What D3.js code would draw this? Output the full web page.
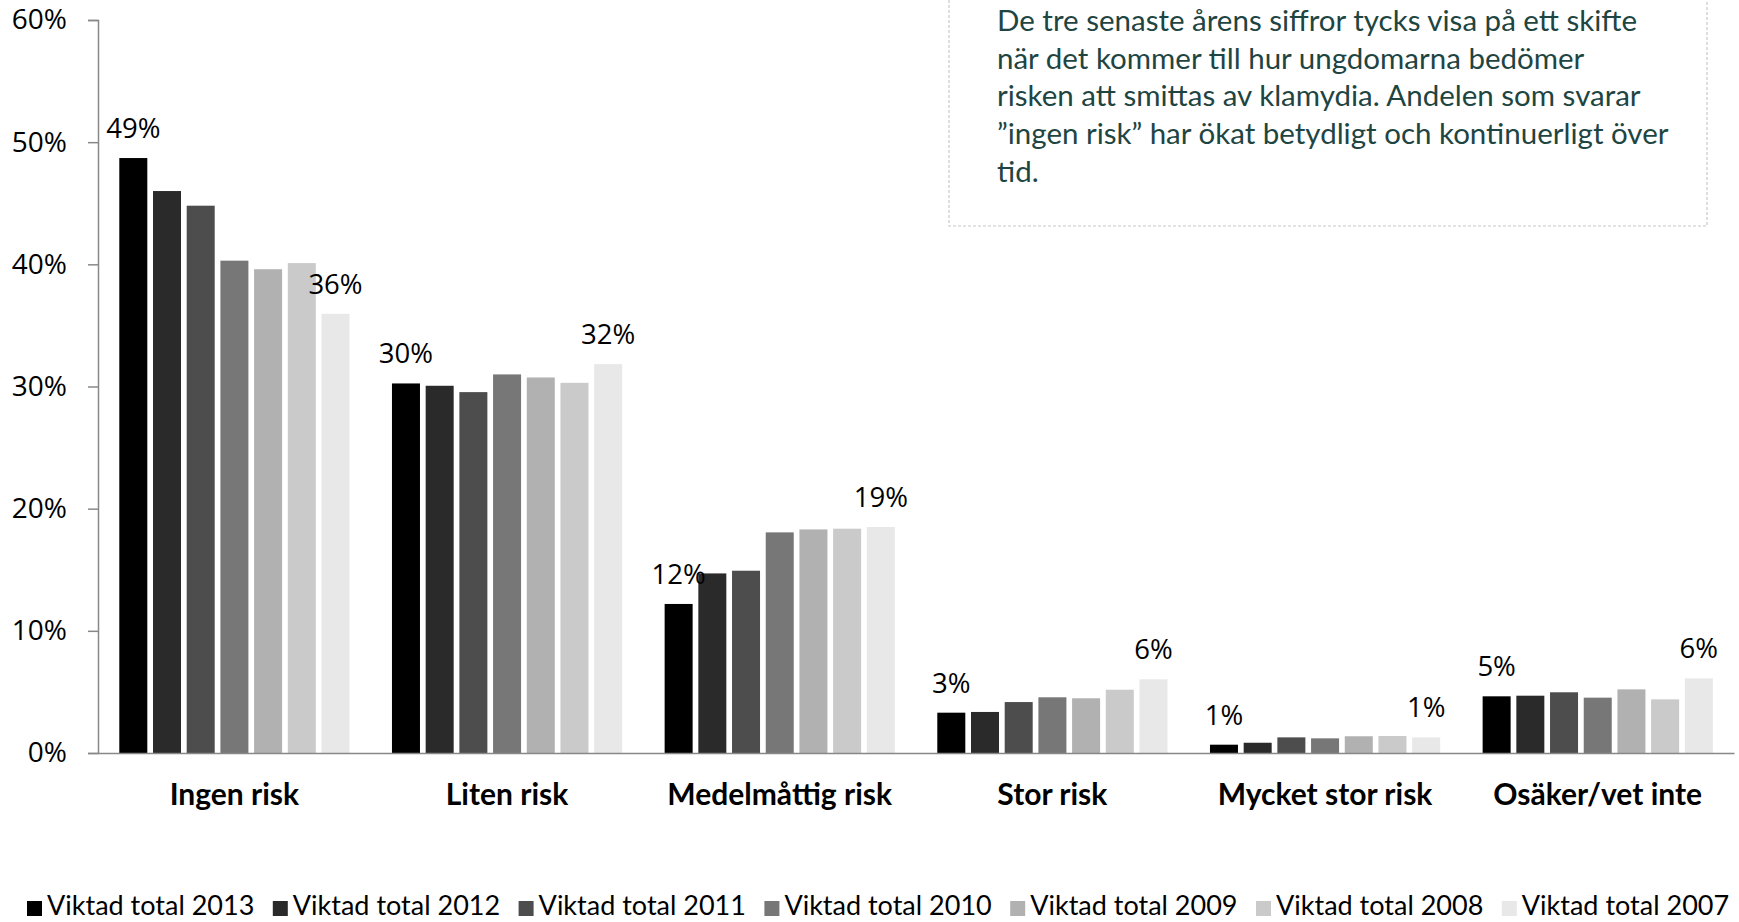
<!DOCTYPE html>
<html>
<head>
<meta charset="utf-8">
<script src="https://cdn.jsdelivr.net/npm/d3@7"></script>
<style>
  html, body { margin: 0; padding: 0; background: #fff; }
  svg { display: block; }
</style>
</head>
<body>
<svg id="chart" width="1739" height="922"></svg>
<script>
// ---- data ----
const categories = ["Ingen risk", "Liten risk", "Medelmåttig risk", "Stor risk", "Mycket stor risk", "Osäker/vet inte"];
const seriesNames = ["Viktad total 2013", "Viktad total 2012", "Viktad total 2011", "Viktad total 2010", "Viktad total 2009", "Viktad total 2008", "Viktad total 2007"];
const v2013 = [48.7, 30.25, 12.2, 3.3, 0.68, 4.64];
const v2012 = [46.0, 30.06, 14.7, 3.36, 0.84, 4.69];
const v2011 = [44.8, 29.54, 14.92, 4.17, 1.28, 4.97];
const v2010 = [40.3, 30.99, 18.06, 4.56, 1.2, 4.53];
const v2009 = [39.6, 30.74, 18.3, 4.48, 1.37, 5.21];
const v2008 = [40.1, 30.3, 18.36, 5.18, 1.39, 4.39];
const v2007 = [35.95, 31.83, 18.5, 6.03, 1.28, 6.11];
const seriesValues = [v2013, v2012, v2011, v2010, v2009, v2008, v2007];
const seriesColors = ["#000000", "#2a2a2a", "#4d4d4d", "#777777", "#b1b1b1", "#cacaca", "#e8e8e8"];
const yTicks = [0, 10, 20, 30, 40, 50, 60];
const noteLines = [
  "De tre senaste årens siffror tycks visa på ett skifte",
  "när det kommer till hur ungdomarna bedömer",
  "risken att smittas av klamydia. Andelen som svarar",
  "”ingen risk” har ökat betydligt och kontinuerligt över",
  "tid."
];

// ---- layout ----
const svg = d3.select("#chart");
const plotLeft = 98, plotRight = 1734, plotTop = 20, plotBottom = 753;

const x0 = d3.scaleBand().domain(categories).range([plotLeft, plotRight]).paddingInner(0).paddingOuter(0);
const x1 = d3.scaleBand().domain(seriesNames).range([21.3, 21.3 + 6 * 33.7 + 28]).paddingInner(0.169).paddingOuter(0);
const y = d3.scaleLinear().domain([0, 60]).range([plotBottom, plotTop]);

const numFont = "'Open Sans', sans-serif";
const txtFont = "Lato, sans-serif";

// y axis
const yAxis = svg.append("g")
  .attr("transform", `translate(${plotLeft},0)`)
  .call(d3.axisLeft(y).tickValues(yTicks).tickSize(10).tickPadding(21).tickFormat(d => d + "%"));
yAxis.select(".domain").attr("stroke", "#888").attr("stroke-width", 1.5);
yAxis.selectAll(".tick line").attr("stroke", "#888").attr("stroke-width", 1.5);
yAxis.selectAll(".tick text")
  .attr("font-family", numFont).attr("font-size", 28).attr("fill", "#000");

// bars
const groups = svg.append("g").selectAll("g")
  .data(categories)
  .join("g")
  .attr("transform", d => `translate(${x0(d)},0)`);

groups.selectAll("rect")
  .data((c, ci) => seriesNames.map((s, si) => ({ s, si, ci, v: seriesValues[si][ci] })))
  .join("rect")
  .attr("x", d => x1(d.s))
  .attr("width", x1.bandwidth())
  .attr("y", d => y(d.v))
  .attr("height", d => y(0) - y(d.v))
  .attr("fill", d => seriesColors[d.si]);

// data labels (first and last series)
groups.selectAll("text.lbl")
  .data((c, ci) => [0, seriesNames.length - 1].map(si => ({ s: seriesNames[si], si, v: seriesValues[si][ci] })))
  .join("text")
  .attr("class", "lbl")
  .attr("x", d => x1(d.s) + x1.bandwidth() / 2)
  .attr("y", d => y(d.v) - 20)
  .attr("text-anchor", "middle")
  .attr("font-family", numFont)
  .attr("font-size", 27.5)
  .attr("fill", "#000")
  .text(d => Math.round(d.v) + "%");

// x axis
const xAxis = svg.append("g")
  .attr("transform", `translate(0,${plotBottom})`)
  .call(d3.axisBottom(x0).tickSize(0).tickPadding(31));
xAxis.select(".domain").attr("stroke", "#888").attr("stroke-width", 1.5);
xAxis.selectAll(".tick text")
  .attr("font-family", txtFont).attr("font-weight", "bold").attr("font-size", 30).attr("fill", "#000");

// annotation box
const note = svg.append("g");
note.append("rect")
  .attr("x", 949).attr("y", -20).attr("width", 1707 - 949).attr("height", 226 + 20)
  .attr("fill", "#fff").attr("stroke", "#c8c8c8").attr("stroke-width", 1.2)
  .attr("stroke-dasharray", "3,2");
note.selectAll("text")
  .data(noteLines)
  .join("text")
  .attr("x", 997)
  .attr("y", (d, i) => 31 + i * 37.7)
  .attr("font-family", txtFont)
  .attr("font-size", 29.5)
  .attr("fill", "#1e4542")
  .text(d => d);

// legend
const legend = svg.append("g").attr("transform", "translate(27,0)");
const items = legend.selectAll("g")
  .data(seriesNames)
  .join("g")
  .attr("transform", (d, i) => `translate(${i * 245.8},0)`);
items.append("rect")
  .attr("x", 0).attr("y", 901).attr("width", 15).attr("height", 15)
  .attr("fill", (d, i) => seriesColors[i]);
items.append("text")
  .attr("x", 20).attr("y", 915)
  .attr("font-family", txtFont).attr("font-size", 27).attr("fill", "#000")
  .text(d => d);
</script>
</body>
</html>
